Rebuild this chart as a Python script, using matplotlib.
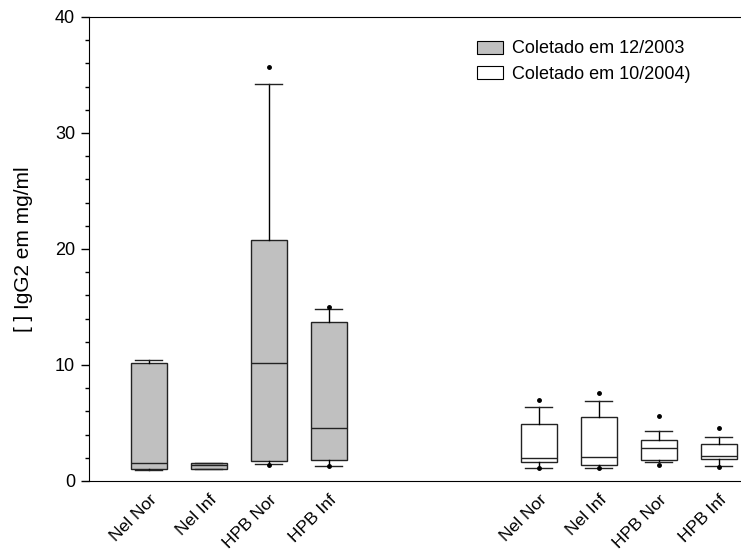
import matplotlib
matplotlib.use("Agg")
import matplotlib.pyplot as plt
from matplotlib.patches import Patch

plt.rcParams['font.family'] = ['Liberation Sans', 'DejaVu Sans']

labels = ["Nel Nor", "Nel Inf", "HPB Nor", "HPB Inf",
          "Nel Nor", "Nel Inf", "HPB Nor", "HPB Inf"]
positions = [1, 2, 3, 4, 7.5, 8.5, 9.5, 10.5]

# box stats
whislo = [0.95, 1.05, 1.45, 1.3, 1.1, 1.15, 1.6, 1.25]
q1 = [1.0, 1.05, 1.7, 1.85, 1.6, 1.4, 1.8, 1.9]
med = [1.55, 1.4, 10.2, 4.55, 2.0, 2.1, 2.8, 2.15]
q3 = [10.2, 1.55, 20.8, 13.7, 4.9, 5.5, 3.5, 3.15]
whishi = [10.45, 1.55, 34.2, 14.8, 6.4, 6.9, 4.35, 3.8]
fliers = [[], [], [35.7, 1.4], [15.0, 1.3], [7.0, 1.1], [7.55, 1.15], [5.6, 1.4], [4.55, 1.2]]
fills = ["#c0c0c0"] * 4 + ["white"] * 4

fig = plt.figure(figsize=(7.41, 5.5), dpi=100)
ax = fig.add_axes([0.120, 0.1255, 0.88, 0.8436])

stats = []
for i in range(len(labels)):
    stats.append(dict(whislo=whislo[i], q1=q1[i], med=med[i], q3=q3[i],
                      whishi=whishi[i], fliers=fliers[i]))

bp = ax.bxp(stats, positions=positions, widths=0.6, capwidths=0.45,
            patch_artist=True, manage_ticks=False,
            boxprops=dict(edgecolor="#222222", linewidth=1.0),
            medianprops=dict(color="#222222", linewidth=1.0),
            whiskerprops=dict(color="black", linewidth=1.0),
            capprops=dict(color="#222222", linewidth=1.0),
            flierprops=dict(marker="o", markersize=2.5, markerfacecolor="black",
                            markeredgecolor="black"))
for patch, c in zip(bp["boxes"], fills):
    patch.set_facecolor(c)

ax.set_xlim(0, 10.87)
ax.set_ylim(0, 40)
ax.set_yticks([0, 10, 20, 30, 40])
ax.set_yticks(range(0, 41, 2), minor=True)
ax.tick_params(axis="y", which="major", length=6, width=1, labelsize=13, direction="out", pad=4)
ax.tick_params(axis="y", which="minor", length=3, width=1, direction="out")
ax.set_xticks(positions)
ax.set_xticklabels(labels, rotation=45, ha="right", rotation_mode="anchor", fontsize=12.5)
ax.tick_params(axis="x", length=0, pad=8)
ax.spines["right"].set_visible(False)
ax.set_ylabel("[ ] IgG2 em mg/ml", fontsize=15, labelpad=16)

handles = [Patch(facecolor="#c0c0c0", edgecolor="black", linewidth=0.8),
           Patch(facecolor="white", edgecolor="black", linewidth=0.8)]
ax.legend(handles, ["Coletado em 12/2003", "Coletado em 10/2004)"],
          loc="upper left", bbox_to_anchor=(0.584, 0.965), frameon=False,
          fontsize=13, handlelength=1.45, handleheight=0.72, handletextpad=0.5,
          labelspacing=0.45, borderaxespad=0)

fig.savefig("out.png", dpi=100)
